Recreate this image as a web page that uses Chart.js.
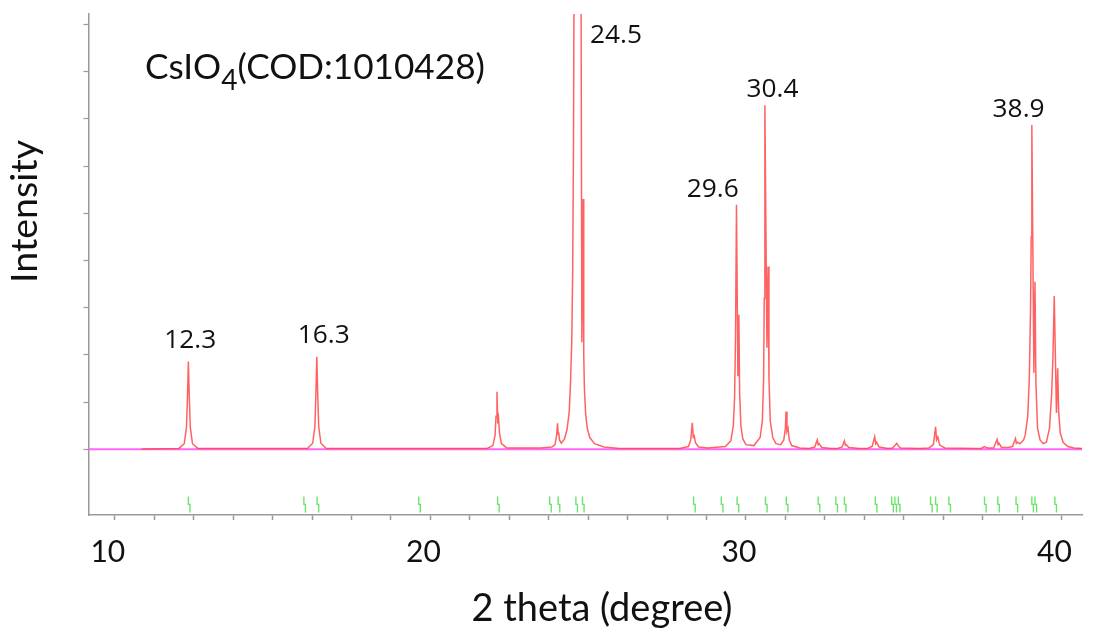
<!DOCTYPE html>
<html>
<head>
<meta charset="utf-8">
<script src="https://cdn.jsdelivr.net/npm/chart.js@4.4.0/dist/chart.umd.min.js"></script>
<style>
  html, body { margin: 0; padding: 0; background: #fff; }
  #wrap { width: 1093px; height: 635px; }
</style>
</head>
<body>
<div id="wrap"><canvas id="xrd" width="1093" height="635"></canvas></div>
<script>
// Diffractogramme calculé CsIO4 (COD:1010428)
const curveX = [
  10.85, 12.03, 12.20, 12.27, 12.30, 12.33, 12.36, 12.39, 12.46, 12.63,
  16.10, 16.27, 16.34, 16.37, 16.40, 16.43, 16.46, 16.53, 16.70,
  21.80, 21.98, 22.05, 22.08, 22.11, 22.135, 22.16, 22.19, 22.25, 22.42,
  23.50, 23.85, 23.95, 24.00, 24.03, 24.05, 24.065, 24.09, 24.15, 24.25,
  24.33, 24.40, 24.44, 24.48, 24.51, 24.535, 24.56, 24.62, 24.666, 24.71,
  24.77, 24.80, 24.84, 24.86, 24.88, 24.92, 24.97, 25.05, 25.20, 25.50, 26.00,
  27.90, 28.18, 28.25, 28.30, 28.33, 28.36, 28.40, 28.50, 28.80,
  29.35, 29.52, 29.60, 29.64, 29.67, 29.70, 29.745, 29.775, 29.80, 29.84, 29.90, 30.00,
  30.25, 30.45, 30.52, 30.56, 30.58, 30.60, 30.665, 30.70, 30.73, 30.77, 30.85, 30.95,
  31.10, 31.20, 31.25, 31.27, 31.30, 31.335, 31.37, 31.45, 31.70,
  32.00, 32.18, 32.26, 32.29, 32.32, 32.40, 32.70,
  32.90, 33.05, 33.12, 33.15, 33.18, 33.26, 33.60,
  33.85, 34.00, 34.08, 34.11, 34.14, 34.22, 34.50,
  34.65, 34.78, 34.83, 34.90, 35.50,
  35.80, 35.94, 36.01, 36.04, 36.08, 36.14, 36.30, 37.30,
  37.45, 37.55, 37.65, 37.85, 37.96, 37.99, 38.02, 38.10, 38.30,
  38.45, 38.54, 38.57, 38.60, 38.68, 38.80, 38.85, 38.93, 38.98, 39.02, 39.04, 39.06,
  39.125, 39.16, 39.19, 39.24, 39.32, 39.42, 39.52, 39.62, 39.69, 39.73, 39.77,
  39.84, 39.88, 39.91, 39.96, 40.05, 40.20, 40.40, 40.65
];
const curveY = [
  0.01, 0.02, 0.12, 0.47, 1.08, 1.86, 1.08, 0.47, 0.12, 0.02,
  0.02, 0.13, 0.49, 1.14, 1.96, 1.14, 0.49, 0.13, 0.02,
  0.02, 0.08, 0.30, 0.70, 1.22, 0.55, 0.66, 0.35, 0.12, 0.03,
  0.03, 0.05, 0.10, 0.30, 0.55, 0.32, 0.36, 0.20, 0.13, 0.22,
  0.42, 0.80, 1.40, 2.30, 3.80, 6.50, 11.5, 35, 60, 35,
  11, 2.27, 5.30, 2.0, 1.30, 0.75, 0.45, 0.25, 0.12, 0.05, 0.02,
  0.02, 0.06, 0.20, 0.56, 0.26, 0.29, 0.14, 0.05, 0.03,
  0.06, 0.18, 0.50, 1.10, 2.40, 5.18, 1.55, 2.85, 1.20, 0.50, 0.22, 0.10,
  0.08, 0.25, 0.60, 1.50, 3.20, 7.29, 2.15, 3.87, 1.50, 0.60, 0.25, 0.12,
  0.10, 0.20, 0.45, 0.80, 0.38, 0.45, 0.20, 0.08, 0.03,
  0.02, 0.05, 0.20, 0.10, 0.12, 0.04, 0.02,
  0.02, 0.05, 0.18, 0.09, 0.10, 0.04, 0.02,
  0.02, 0.06, 0.27, 0.12, 0.15, 0.05, 0.02,
  0.03, 0.13, 0.07, 0.03, 0.02,
  0.03, 0.10, 0.48, 0.20, 0.26, 0.09, 0.03, 0.02,
  0.02, 0.06, 0.03, 0.03, 0.21, 0.10, 0.13, 0.04, 0.04,
  0.06, 0.23, 0.13, 0.15, 0.12, 0.20, 0.30, 0.70, 1.50, 3.00, 4.50, 6.87,
  1.62, 3.55, 1.40, 0.45, 0.20, 0.12, 0.15, 0.45, 1.20, 2.00, 3.25,
  0.77, 1.72, 0.80, 0.35, 0.15, 0.06, 0.03, 0.02
];
// positions des réflexions (traits verts)
const reflections = [
  12.33, 15.99, 16.41, 19.63, 22.13, 23.78, 24.05, 24.61, 24.82,
  28.34, 29.22, 29.72, 30.62, 31.28, 32.29, 32.85, 33.12, 34.10,
  34.62, 34.72, 34.83, 35.85, 36.01, 36.43, 37.56, 37.98, 38.56,
  39.06, 39.16, 39.79
];
const peakLabels = ['12.3', '16.3', '24.5', '29.6', '30.4', '38.9'];
const peakLabelX = [12.39, 16.62, 25.88, 28.95, 30.84, 38.64];
const peakLabelY = [2.15, 2.25, 8.61, 5.35, 7.46, 7.04];
const xTickLabels = [10, 20, 30, 40];
const xRange = [9.165, 40.65];
const yRange = [-1.39, 9.22];
const markTop = -1.0, markMid = -1.165, markBottom = -1.335;

const curve = curveX.map((x, i) => ({ x, y: curveY[i] }));
const baseline = [{ x: xRange[0], y: 0 }, { x: xRange[1], y: 0 }];
const marks = [];
reflections.forEach(p => {
    marks.push({ x: p, y: markTop }, { x: p, y: markMid },
               { x: p + 0.05, y: markMid }, { x: p + 0.05, y: markBottom },
               { x: p, y: null });
});

function sizeFor(ctx, text, family, width) {
    ctx.font = '100px ' + family;
    return 100 * width / ctx.measureText(text).width;
}

// textes : titre, axes, étiquettes de pics
const textPlugin = {
    id: 'xrdText',
    afterDatasetsDraw(chart) {
        const { ctx, scales: { x, y } } = chart;
        ctx.save();
        ctx.fillStyle = '#111';
        ctx.textBaseline = 'alphabetic';

        // étiquettes des pics
        const s = sizeFor(ctx, '24.5', '"Open Sans"', 52);
        ctx.font = s + 'px "Open Sans"';
        ctx.textAlign = 'center';
        peakLabels.forEach((t, i) => {
            ctx.fillText(t, x.getPixelForValue(peakLabelX[i]), y.getPixelForValue(peakLabelY[i]));
        });

        // titre CsIO4(COD:1010428)
        ctx.textAlign = 'left';
        ctx.font = '100px Lato';
        const w = ctx.measureText('CsIO').width + ctx.measureText('(COD:1010428)').width +
                  ctx.measureText('4').width * 0.8;
        const ts = 100 * 340 / w;
        let px = 145;
        ctx.font = ts + 'px Lato';
        ctx.fillText('CsIO', px, 79);
        px += ctx.measureText('CsIO').width;
        ctx.font = (ts * 0.8) + 'px Lato';
        ctx.fillText('4', px, 90);
        px += ctx.measureText('4').width;
        ctx.font = ts + 'px Lato';
        ctx.fillText('(COD:1010428)', px, 79);

        // titre axe x
        ctx.textAlign = 'center';
        ctx.font = sizeFor(ctx, '2 theta (degree)', 'Lato', 261) + 'px Lato';
        ctx.fillText('2 theta (degree)', 602, 621);

        // titre axe y
        ctx.font = sizeFor(ctx, 'Intensity', 'Lato', 143) + 'px Lato';
        ctx.translate(37, 211.5);
        ctx.rotate(-Math.PI / 2);
        ctx.fillText('Intensity', 0, 0);
        ctx.restore();
    }
};

Chart.defaults.font.family = 'Lato';

new Chart(document.getElementById('xrd'), {
    type: 'line',
    data: {
        datasets: [
            { data: curve, borderColor: 'rgba(255, 70, 70, 0.85)', borderWidth: 1.5, pointRadius: 0, tension: 0 },
            { data: baseline, borderColor: '#ff66ff', borderWidth: 2, pointRadius: 0 },
            { data: marks, borderColor: 'rgba(70, 220, 70, 0.8)', borderWidth: 1.4, pointRadius: 0, spanGaps: false }
        ]
    },
    options: {
        responsive: false,
        animation: false,
        layout: { padding: { top: 14, right: 5, left: 0, bottom: 0 } },
        plugins: { legend: { display: false }, tooltip: { enabled: false }, title: { display: false } },
        scales: {
            x: {
                type: 'linear',
                min: xRange[0],
                max: xRange[1],
                afterFit: s => { s.height = 120; },
                border: { display: true, color: '#9a9a9a', width: 1.5 },
                grid: { drawOnChartArea: false, drawTicks: true, tickLength: 5, tickColor: '#9a9a9a', tickWidth: 1.5 },
                ticks: {
                    stepSize: 1.25,
                    includeBounds: false,
                    autoSkip: false,
                    maxRotation: 0,
                    padding: 14,
                    labelOffset: -7,
                    color: '#111',
                    font: { family: 'Lato', size: 30 },
                    callback: v => xTickLabels.some(l => Math.abs(l - v) < 1e-6) ? String(Math.round(v)) : ''
                }
            },
            y: {
                type: 'linear',
                min: yRange[0],
                max: yRange[1],
                afterFit: s => { s.width = 88.5; },
                afterBuildTicks: s => { s.ticks = s.ticks.filter(t => t.value >= 0); },
                border: { display: true, color: '#9a9a9a', width: 1.5 },
                grid: { drawOnChartArea: false, drawTicks: true, tickLength: 5, tickColor: '#9a9a9a', tickWidth: 1.2 },
                ticks: { stepSize: 1, includeBounds: false, display: false }
            }
        }
    },
    plugins: [textPlugin]
});
</script>
</body>
</html>
